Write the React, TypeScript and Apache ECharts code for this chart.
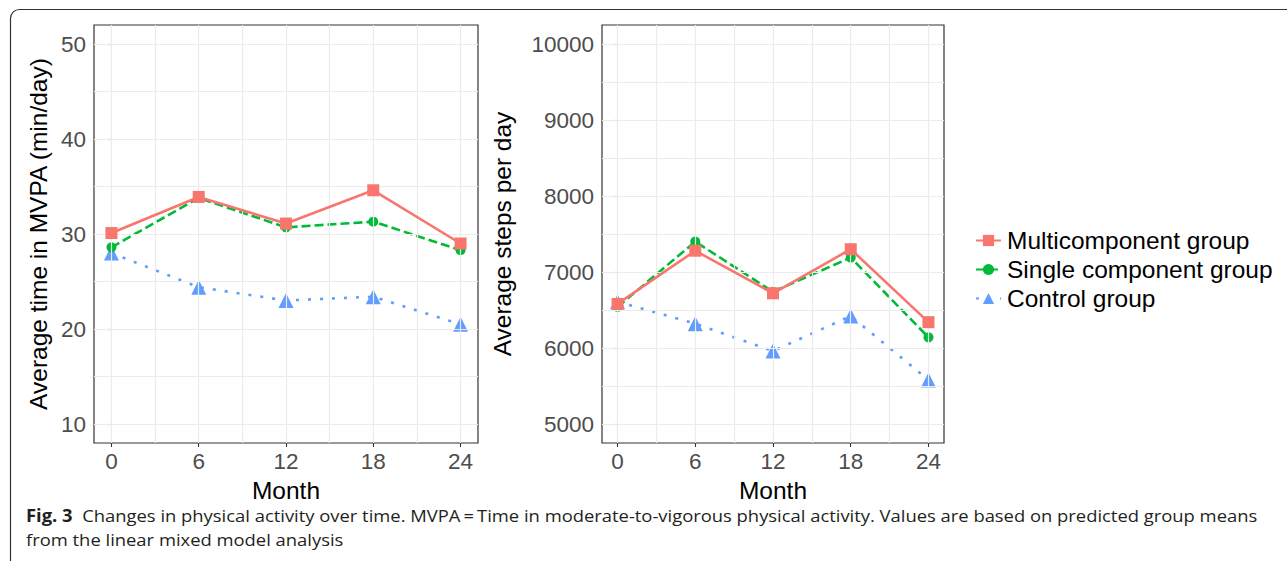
import React, { useEffect, useRef } from "react";
import * as echarts from "echarts";

const months = [0, 6, 12, 18, 24];
const monthGrid = [0, 3, 6, 9, 12, 15, 18, 21, 24];
const seriesNames = ["Multicomponent group", "Single component group", "Control group"];

const mvpaTicks = [10, 20, 30, 40, 50];
const mvpaGrid = [10, 15, 20, 25, 30, 35, 40, 45, 50];
const mvpaMulti = [30.1, 33.9, 31.1, 34.6, 29.0];
const mvpaSingle = [28.6, 33.8, 30.7, 31.3, 28.3];
const mvpaControl = [28.0, 24.4, 23.0, 23.4, 20.5];

const stepTicks = [5000, 6000, 7000, 8000, 9000, 10000];
const stepGrid = [5000, 5500, 6000, 6500, 7000, 7500, 8000, 8500, 9000, 9500, 10000];
const stepMulti = [6580, 7280, 6720, 7300, 6340];
const stepSingle = [6540, 7400, 6740, 7190, 6140];
const stepControl = [6610, 6320, 5960, 6420, 5580];

const captionBold = "Fig. 3";
const captionLine1 =
  "  Changes in physical activity over time. MVPA\u2009=\u2009Time in moderate-to-vigorous physical activity. Values are based on predicted group means";
const captionLine2 = "from the linear mixed model analysis";

const colors = ["#F8766D", "#00BA38", "#619CFF"];
const FONT = '"Liberation Sans", Arial, Helvetica, sans-serif';
const CAP_FS = 17;
const TITLE_FS = 24.5;
const TICK_FS = 22.5;

function measureCaption(): number {
  const c = document.createElement("canvas").getContext("2d");
  if (!c) return 1;
  c.font = `bold ${CAP_FS}px "Open Sans"`;
  const w1 = c.measureText(captionBold).width;
  c.font = `${CAP_FS}px "Open Sans"`;
  const w2 = c.measureText(captionLine1).width;
  return 1232 / (w1 + w2);
}

export default function App() {
  const ref = useRef<HTMLDivElement>(null);
  useEffect(() => {
    document.body.style.margin = "0";
    if (!ref.current) return;
    const chart = echarts.init(ref.current, null, { renderer: "svg" });
    const sx = measureCaption();

    const gridLineSeries = (idx: number, xs: number[], ys: number[]) => ({
      type: "line",
      xAxisIndex: idx,
      yAxisIndex: idx,
      data: [],
      silent: true,
      z: 1,
      markLine: {
        silent: true,
        symbol: ["none", "none"],
        label: { show: false },
        animation: false,
        lineStyle: { color: "#EBEBEB", width: 1.2, type: "solid" },
        emphasis: { disabled: true },
        data: [
          ...xs.map((v) => ({ xAxis: v })),
          ...ys.map((v) => ({ yAxis: v })),
        ],
      },
    });

    const dataSeries = (idx: number, vals: number[][]) =>
      vals.map((arr, i) => ({
        type: "line",
        name: seriesNames[i],
        xAxisIndex: idx,
        yAxisIndex: idx,
        data: arr.map((v, j) => [months[j], v]),
        z: 5 - i,
        symbol: ["rect", "circle", "triangle"][i],
        symbolSize: [12, 10, 15][i],
        showAllSymbol: true,
        itemStyle: { color: colors[i] },
        lineStyle: {
          color: colors[i],
          width: 2.6,
          type: i === 0 ? "solid" : i === 1 ? [9, 4] : [3, 9],
        },
        emphasis: { disabled: true },
      }));

    const xAxis = (gridIndex: number) => ({
      type: "value",
      gridIndex,
      min: -1.2,
      max: 25.2,
      axisLine: { show: false },
      splitLine: { show: false },
      axisTick: { show: true, customValues: months, length: 4, lineStyle: { color: "#333", width: 1.1 } },
      axisLabel: {
        customValues: months,
        fontSize: TICK_FS,
        color: "#4D4D4D",
        margin: 7,
        fontFamily: FONT,
        formatter: (v: number) => String(v),
      },
      name: "Month",
      nameLocation: "middle",
      nameGap: 29,
      nameTextStyle: { fontSize: TITLE_FS, color: "#000", fontFamily: FONT },
    });

    const yAxis = (gridIndex: number, min: number, max: number, ticks: number[], name: string, gap: number) => ({
      type: "value",
      gridIndex,
      min,
      max,
      axisLine: { show: false },
      splitLine: { show: false },
      axisTick: { show: true, customValues: ticks, length: 4, lineStyle: { color: "#333", width: 1.1 } },
      axisLabel: {
        customValues: ticks,
        fontSize: TICK_FS,
        color: "#4D4D4D",
        margin: 8,
        fontFamily: FONT,
        formatter: (v: number) => String(v),
      },
      name,
      nameLocation: "middle",
      nameGap: gap,
      nameTextStyle: { fontSize: TITLE_FS, color: "#000", fontFamily: FONT },
    });

    chart.setOption({
      animation: false,
      backgroundColor: "#fff",
      textStyle: { fontFamily: FONT },
      grid: [
        { left: 94, width: 384, top: 25, height: 418, show: true, borderColor: "#333", borderWidth: 1.2, backgroundColor: "#fff" },
        { left: 602, width: 342, top: 25, height: 418, show: true, borderColor: "#333", borderWidth: 1.2, backgroundColor: "#fff" },
      ],
      xAxis: [xAxis(0), xAxis(1)],
      yAxis: [
        yAxis(0, 8, 52, mvpaTicks, "Average time in MVPA (min/day)", 43),
        yAxis(1, 4750, 10250, stepTicks, "Average steps per day", 87),
      ],
      legend: {
        data: seriesNames,
        orient: "vertical",
        left: 970,
        top: 223,
        itemWidth: 25,
        itemHeight: 14,
        itemGap: 4,
        selectedMode: false,
        textStyle: { fontSize: TITLE_FS, color: "#000", fontFamily: FONT, padding: [0, 0, 0, 1] },
      },
      graphic: [
        {
          type: "rect",
          silent: true,
          shape: { x: 10.5, y: 9.5, width: 1400, height: 700, r: [9, 0, 0, 0] },
          style: { fill: "none", stroke: "#333", lineWidth: 1.2 },
        },
        {
          type: "text",
          x: 26,
          y: 515,
          scaleX: sx,
          silent: true,
          style: {
            text: "{b|" + captionBold + "}" + captionLine1,
            fontFamily: '"Open Sans"',
            fontSize: CAP_FS,
            fill: "#231F20",
            verticalAlign: "middle",
            rich: { b: { fontWeight: "bold", fontSize: CAP_FS, fontFamily: '"Open Sans"', fill: "#231F20" } },
          },
        },
        {
          type: "text",
          x: 26,
          y: 539,
          scaleX: sx,
          silent: true,
          style: {
            text: captionLine2,
            fontFamily: '"Open Sans"',
            fontSize: CAP_FS,
            fill: "#231F20",
            verticalAlign: "middle",
          },
        },
      ],
      series: [
        gridLineSeries(0, monthGrid, mvpaGrid),
        gridLineSeries(1, monthGrid, stepGrid),
        ...dataSeries(0, [mvpaMulti, mvpaSingle, mvpaControl]),
        ...dataSeries(1, [stepMulti, stepSingle, stepControl]),
      ],
    });
    return () => chart.dispose();
  }, []);
  return <div ref={ref} style={{ width: 1287, height: 561 }} />;
}
